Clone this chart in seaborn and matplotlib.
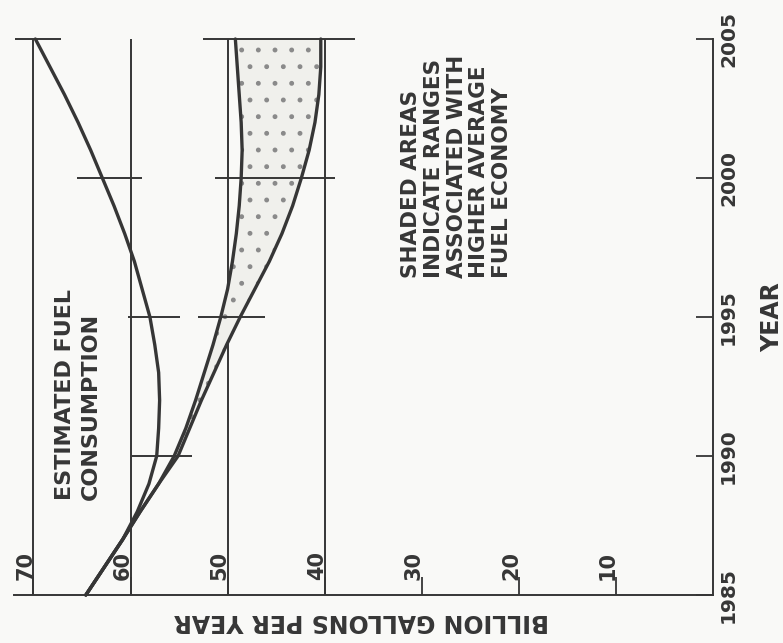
import matplotlib
matplotlib.use("Agg")
import matplotlib.pyplot as plt
import seaborn as sns

# ---------------- data ----------------
years = list(range(1985, 2006))
# baseline estimated fuel consumption (billion gallons per year)
baseline = [64.6, 62.7, 60.8, 59.3, 58.1, 57.3, 57.1, 57.0, 57.1, 57.5, 58.0,
            58.8, 59.6, 60.6, 61.7, 62.9, 64.1, 65.4, 66.8, 68.3, 69.8]
# higher average fuel economy range: upper and lower bounds
range_upper = [64.6, 62.7, 60.8, 59.0, 57.1, 55.5, 54.3, 53.3, 52.4, 51.5, 50.7,
               50.0, 49.5, 49.1, 48.8, 48.6, 48.5, 48.6, 48.8, 49.0, 49.2]
range_lower = [64.6, 62.7, 60.8, 59.0, 57.1, 55.1, 53.9, 52.7, 51.4, 50.1, 48.7,
               47.2, 45.7, 44.4, 43.3, 42.4, 41.6, 41.0, 40.6, 40.4, 40.4]
shade_start_year = 1990

gallon_ticks = [70, 60, 50, 40, 30, 20, 10]
gallon_gridlines = [70, 60, 50, 40]
year_ticks = [1985, 1990, 1995, 2000, 2005]
# short year cross-marks drawn across the curves: (year, from, to)
year_marks = [(1990, 59.8, 53.7),
              (1995, 60.3, 54.9), (1995, 53.0, 46.1),
              (2000, 65.5, 58.8), (2000, 51.3, 38.9),
              (2005, 71.9, 67.2), (2005, 52.5, 36.9)]

note_fuel = "ESTIMATED FUEL\nCONSUMPTION"
note_shade = "SHADED AREAS\nINDICATE RANGES\nASSOCIATED WITH\nHIGHER AVERAGE\nFUEL ECONOMY"

# ---------------- style ----------------
sns.set_theme(style="white")
plt.rcParams["font.family"] = ["DejaVu Sans"]
plt.rcParams["font.weight"] = "bold"
plt.rcParams["hatch.linewidth"] = 1.1
ink = "#363636"
bg = "#f9f9f7"
plt.rcParams["hatch.color"] = "#8a8a8a"

fig = plt.figure(figsize=(7.83, 6.43), dpi=100, facecolor=bg)
ax = fig.add_axes([14 / 783, 48 / 643, 699 / 783, 556 / 643])
ax.set_facecolor(bg)

# gridlines
ax.vlines(gallon_gridlines, years[0], years[-1], color=ink, lw=1.4, zorder=1)

# shaded range
i0 = years.index(shade_start_year)
ax.fill_betweenx(years[i0:], range_lower[i0:], range_upper[i0:],
                 facecolor="#f0f0ec", hatch=".", edgecolor="#8a8a8a",
                 linewidth=0, zorder=1.5)

# curves
for vals in (baseline, range_upper, range_lower):
    sns.lineplot(x=vals, y=years, sort=False, estimator=None, color=ink,
                 lw=2.4, ax=ax, zorder=3, clip_on=False)

# year cross-marks
for yr, g0, g1 in year_marks:
    ax.hlines(yr, g0, g1, color=ink, lw=1.4, zorder=2, clip_on=False)

ax.set_xlim(72, 0)
ax.set_ylim(1985, 2005)

for s in ("left", "top"):
    ax.spines[s].set_visible(False)
for s in ("right", "bottom"):
    ax.spines[s].set_color(ink)
    ax.spines[s].set_linewidth(1.4)

# year axis on the right
ax.yaxis.tick_right()
ax.set_yticks(year_ticks)
ax.set_yticklabels([str(y) for y in year_ticks])
for lab in ax.get_yticklabels():
    lab.set_rotation(90)
    lab.set_va("center")
    lab.set_fontweight("bold")
ax.tick_params(axis="y", direction="in", length=12, width=1.3, pad=4.3,
               labelsize=14.5, colors=ink, right=True, left=False)

# gallons axis at bottom
ax.set_xticks(gallon_ticks)
ax.set_xticklabels([])
ax.tick_params(axis="x", direction="in", length=13, width=1.3, colors=ink,
               bottom=True)
for g in gallon_ticks:
    ax.annotate(str(g), xy=(g, years[0]), xytext=(1.5, 10.5),
                textcoords="offset points", rotation=90, ha="right",
                va="bottom", fontsize=15, fontweight="bold", color=ink)

ax.set_xlabel("")
ax.text(0.497, -0.025, "BILLION GALLONS PER YEAR", transform=ax.transAxes,
        rotation=180, ha="center", va="top", fontsize=17, fontweight="bold",
        color=ink)

ax.set_ylabel("YEAR", fontsize=17, fontweight="bold", color=ink)
ax.yaxis.set_label_position("right")
ax.yaxis.set_label_coords(1.067, 0.5)

ax.text(65.4, 1988.4, note_fuel, rotation=90, ha="center", va="bottom",
        multialignment="left", linespacing=1.35, fontsize=16,
        fontweight="bold", color=ink)
ax.text(26.4, 1996.4, note_shade, rotation=90, ha="center", va="bottom",
        multialignment="left", linespacing=1.17, fontsize=15.5,
        fontweight="bold", color=ink)

fig.savefig("out.png", dpi=100, facecolor=bg)
